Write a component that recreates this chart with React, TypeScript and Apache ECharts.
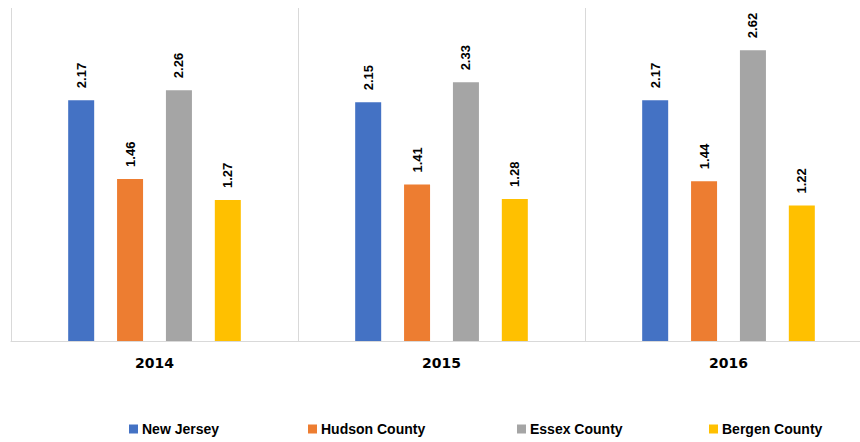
import React, { useEffect, useRef } from "react";
import * as echarts from "echarts";

const categories = ["2014", "2015", "2016"];
const seriesNames = ["New Jersey", "Hudson County", "Essex County", "Bergen County"];
const newJersey = [2.17, 2.15, 2.17];
const hudsonCounty = [1.46, 1.41, 1.44];
const essexCounty = [2.26, 2.33, 2.62];
const bergenCounty = [1.27, 1.28, 1.22];
const colors = ["#4472C4", "#ED7D31", "#A5A5A5", "#FFC000"];
const legendLefts = [129, 308, 517, 709];

export default function App() {
  const ref = useRef<HTMLDivElement>(null);
  useEffect(() => {
    if (!ref.current) return;
    const chart = echarts.init(ref.current, undefined, { renderer: "svg" });
    const values = [newJersey, hudsonCounty, essexCounty, bergenCounty];
    const font = "'Liberation Sans', Arial, sans-serif";
    chart.setOption({
      animation: false,
      grid: { left: 11, width: 861, top: 8, bottom: 101, containLabel: false, outerBoundsMode: "none" },
      legend: seriesNames.map((n, i) => ({
        data: [n],
        left: legendLefts[i],
        top: 422,
        icon: "rect",
        itemWidth: 9,
        itemHeight: 9,
        itemGap: 4,
        textStyle: { fontFamily: font, fontWeight: "bold", fontSize: 14, color: "#000", padding: [0, 0, 0, -1] },
        padding: 0,
      })),
      xAxis: {
        type: "category",
        data: categories,
        axisLine: { lineStyle: { color: "#d9d9d9", width: 1 } },
        axisTick: { show: false },
        splitLine: { show: true, lineStyle: { color: "#d9d9d9", width: 1 } },
        axisLabel: { fontFamily: "'DejaVu Sans', sans-serif", fontWeight: "bold", fontSize: 14, color: "#000", margin: 15 },
      },
      yAxis: {
        type: "value",
        min: 0,
        max: 3,
        show: false,
        splitLine: { show: false },
      },
      series: seriesNames.map((n, i) => ({
        name: n,
        type: "bar",
        data: values[i],
        barWidth: 26,
        barGap: "88%",
        barCategoryGap: "39.7%",
        itemStyle: { color: colors[i] },
        label: {
          show: true,
          position: "top",
          rotate: 90,
          align: "left",
          verticalAlign: "middle",
          distance: 12,
          fontFamily: font,
          fontWeight: "bold",
          fontSize: 13,
          color: "#000",
          formatter: (p: any) => p.value.toFixed(2),
        },
      })),
    });
    return () => chart.dispose();
  }, []);
  return (
    <div style={{ width: 860, height: 442, position: "absolute", left: 0, top: 0, overflow: "hidden" }}>
      <div ref={ref} style={{ width: 880, height: 442 }} />
    </div>
  );
}
